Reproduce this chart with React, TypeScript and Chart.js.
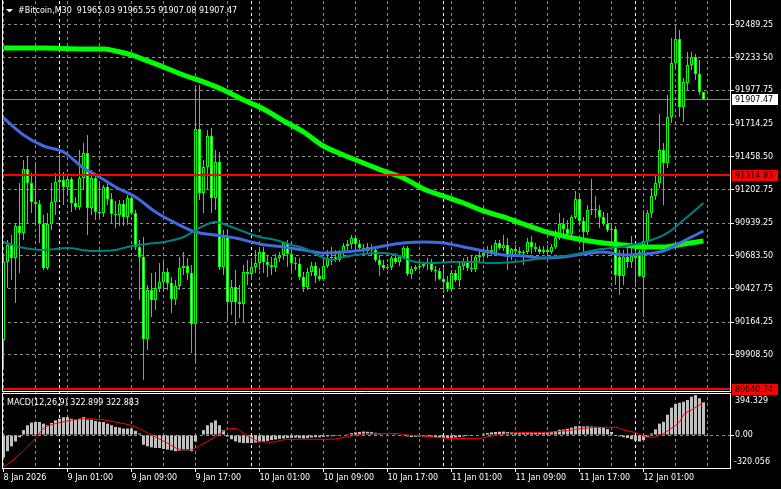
import React, { useEffect, useRef } from 'react';
import { Chart, registerables } from 'chart.js';

Chart.register(...registerables);

const FONT_FAMILY = 'DejaVu Sans';
const GRID_COLOR = '#8c8c8c';
const LIME = '#00ff00';

// ---- candles (M30), bar 0 = 8 Jan 17:00 ----
const OPENS = [
  90026, 90636, 90769, 90667, 90917, 90863, 91363, 91254, 91105, 91089,
  90933, 90589, 90933, 91105, 91261, 91277, 91222, 91285, 91097, 91066,
  91293, 91488, 91058, 91293, 91027, 91019, 91222, 91129, 91011, 91003,
  91089, 90988, 91136, 91019, 90753, 90675, 90034, 90417, 90339, 90432,
  90479, 90558, 90472, 90346, 90448, 90589, 90605, 90550, 90151, 91676,
  91175, 91379, 91621, 91136, 91418, 90597, 90831, 90323, 90440, 90323,
  90307, 90558, 90542, 90597, 90628, 90714, 90636, 90612, 90597, 90667,
  90691, 90784, 90698, 90628, 90620, 90519, 90440, 90558, 90605, 90526,
  90503, 90605, 90667, 90675, 90651, 90706, 90761, 90777, 90823, 90777,
  90745, 90722, 90753, 90730, 90651, 90612, 90589, 90597, 90667, 90636,
  90675, 90745, 90542, 90581, 90597, 90605, 90620, 90636, 90573, 90565,
  90503, 90479, 90425, 90550, 90495, 90605, 90636, 90589, 90581, 90675,
  90691, 90706, 90730, 90706, 90784, 90745, 90769, 90683, 90737, 90722,
  90706, 90714, 90792, 90753, 90737, 90714, 90730, 90714, 90753, 90823,
  90933, 90894, 90855, 90988, 91129, 90956, 90870, 91042, 91050, 91042,
  90988, 90933, 90886, 90894, 90675, 90526, 90675, 90636, 90683, 90714,
  90519, 90800, 91019, 91152, 91254, 91512, 91410, 91770, 92192, 92380,
  91848, 92036, 92176, 92239, 92106, 91965.03,
];
const HIGHS = [
  90691, 90808, 90847, 90941, 91254, 91433, 91457, 91332, 91418, 91121,
  91003, 91019, 91254, 91332, 91473, 91340, 91316, 91301, 91144, 91512,
  91566, 91629, 91355, 91332, 91254, 91238, 91246, 91175, 91113, 91121,
  91121, 91160, 91152, 91042, 90808, 90831, 90456, 90550, 90558, 90628,
  90636, 90589, 90519, 90495, 90675, 90714, 90667, 90612, 91997, 92020,
  91433, 91668, 91684, 91512, 91496, 90886, 90886, 90495, 90573, 90456,
  90612, 90651, 90667, 90730, 90745, 90753, 90691, 90675, 90698, 90714,
  90792, 90808, 90730, 90675, 90667, 90558, 90589, 90636, 90636, 90589,
  90667, 90730, 90753, 90730, 90730, 90784, 90808, 90847, 90839, 90808,
  90777, 90784, 90777, 90753, 90691, 90651, 90620, 90683, 90706, 90691,
  90761, 90761, 90605, 90612, 90636, 90636, 90667, 90659, 90605, 90589,
  90597, 90526, 90573, 90573, 90628, 90667, 90675, 90683, 90691, 90730,
  90745, 90761, 90769, 90808, 90808, 90847, 90823, 90745, 90769, 90753,
  90730, 90823, 90839, 90784, 90761, 90761, 90769, 90777, 90886, 91019,
  90980, 90964, 91003, 91191, 91152, 90988, 91082, 91285, 91152, 91082,
  91027, 91019, 90917, 90917, 90730, 90730, 90745, 90839, 90730, 90730,
  91042, 91042, 91215, 91324, 91793, 91566, 91942, 92388, 92481, 92450,
  92075, 92278, 92278, 92262, 92216, 91965.55,
];
const LOWS = [
  89815, 90432, 90495, 90315, 90550, 90808, 90941, 91019, 90941, 90784,
  90573, 90573, 90886, 91003, 91121, 91082, 91160, 91027, 91042, 91042,
  91199, 90847, 91003, 90964, 90980, 90988, 91082, 90941, 90902, 90917,
  90917, 90925, 91003, 90730, 90339, 89713, 89948, 90206, 90260, 90401,
  90417, 90417, 90237, 90300, 90417, 90534, 90495, 89924, 89846, 91121,
  91019, 91199, 91019, 91042, 90573, 90534, 90182, 90221, 90143, 90198,
  90167, 90456, 90495, 90550, 90573, 90550, 90519, 90534, 90558, 90636,
  90651, 90597, 90558, 90573, 90495, 90401, 90417, 90526, 90472, 90487,
  90487, 90589, 90612, 90636, 90636, 90667, 90714, 90737, 90737, 90714,
  90691, 90706, 90683, 90636, 90526, 90573, 90573, 90573, 90620, 90605,
  90659, 90526, 90503, 90565, 90573, 90589, 90573, 90558, 90487, 90495,
  90393, 90401, 90417, 90479, 90440, 90573, 90565, 90558, 90558, 90636,
  90667, 90667, 90683, 90691, 90730, 90722, 90573, 90651, 90675, 90683,
  90612, 90698, 90698, 90714, 90698, 90698, 90698, 90698, 90737, 90808,
  90839, 90839, 90839, 90972, 90925, 90714, 90847, 91003, 90980, 90902,
  90917, 90870, 90792, 90456, 90378, 90456, 90589, 90589, 90440, 90519,
  90206, 90769, 90980, 91121, 91215, 91082, 91371, 91723, 92153, 91770,
  91731, 91981, 92137, 92059, 91942, 91907.08,
];
const CLOSES = [
  90636, 90769, 90667, 90917, 90863, 91363, 91254, 91105, 91089, 90933,
  90589, 90933, 91105, 91261, 91277, 91222, 91285, 91097, 91066, 91293,
  91488, 91058, 91293, 91027, 91019, 91222, 91129, 91011, 91003, 91089,
  90988, 91136, 91019, 90753, 90675, 90034, 90417, 90339, 90432, 90479,
  90558, 90472, 90346, 90448, 90589, 90605, 90550, 90151, 91676, 91175,
  91379, 91621, 91136, 91418, 90597, 90831, 90323, 90440, 90323, 90307,
  90558, 90542, 90597, 90628, 90714, 90636, 90612, 90597, 90667, 90691,
  90784, 90698, 90628, 90620, 90519, 90440, 90558, 90605, 90526, 90503,
  90605, 90667, 90675, 90651, 90706, 90761, 90777, 90823, 90777, 90745,
  90722, 90753, 90730, 90651, 90612, 90589, 90597, 90667, 90636, 90675,
  90745, 90542, 90581, 90597, 90605, 90620, 90636, 90573, 90565, 90503,
  90479, 90425, 90550, 90495, 90605, 90636, 90589, 90581, 90675, 90691,
  90706, 90730, 90706, 90784, 90745, 90769, 90683, 90737, 90722, 90706,
  90714, 90792, 90753, 90737, 90714, 90730, 90714, 90753, 90823, 90933,
  90894, 90855, 90988, 91129, 90956, 90870, 91042, 91050, 91042, 90988,
  90933, 90886, 90894, 90534, 90526, 90675, 90636, 90683, 90667, 90526,
  90800, 91019, 91152, 91254, 91512, 91410, 91770, 92192, 92380, 91848,
  92044, 92176, 92239, 92106, 91965.03, 91907.47,
];

// ---- moving averages: [bar, price] ----
const MA_SLOW: [number, number][] = [
  [0, 92309], [10, 92309], [20, 92302], [25, 92302], [28, 92286], [32, 92255], [36, 92208],
  [40, 92161], [45, 92098], [50, 92044], [55, 91981], [60, 91903], [65, 91832], [70, 91739],
  [75, 91653], [80, 91543], [85, 91473], [90, 91410], [95, 91348], [100, 91293], [105, 91207],
  [110, 91152], [115, 91097], [120, 91035], [125, 90988], [130, 90933], [135, 90878],
  [140, 90839], [145, 90808], [150, 90784], [155, 90769], [160, 90753], [165, 90753],
  [170, 90777], [175, 90800],
];
const MA_MID: [number, number][] = [
  [0, 91762], [5, 91629], [10, 91543], [15, 91496], [20, 91371], [24, 91301], [28, 91222],
  [33, 91144], [38, 91027], [43, 90941], [48, 90870], [53, 90847], [58, 90823], [64, 90777],
  [70, 90753], [75, 90730], [80, 90706], [85, 90714], [90, 90730], [95, 90761], [100, 90784],
  [105, 90792], [110, 90784], [115, 90753], [120, 90722], [125, 90691], [130, 90683],
  [135, 90667], [140, 90675], [145, 90698], [150, 90714], [155, 90691], [160, 90698],
  [165, 90722], [170, 90800], [175, 90878],
];
const MA_FAST: [number, number][] = [
  [0, 90792], [4, 90753], [10, 90730], [16, 90745], [22, 90722], [28, 90730], [32, 90761],
  [36, 90777], [40, 90792], [45, 90831], [49, 90902], [53, 90949], [57, 90910], [61, 90863],
  [64, 90831], [68, 90808], [72, 90769], [75, 90745], [79, 90683], [82, 90651], [85, 90675],
  [90, 90698], [95, 90706], [99, 90683], [102, 90644], [107, 90628], [112, 90636],
  [117, 90636], [122, 90628], [130, 90644], [135, 90667], [142, 90691], [148, 90730],
  [152, 90745], [157, 90769], [162, 90808], [166, 90863], [170, 90964], [175, 91097],
];

// ---- MACD(12,26,9) ----
const MACD_HIST = [
  -221, -160, -112, -64, -22, 48, 96, 122, 128, 128,
  112, 96, 119, 144, 160, 176, 176, 160, 151, 160,
  176, 151, 151, 138, 128, 128, 112, 96, 80, 74,
  64, 64, 64, 42, 16, -96, -112, -122, -128, -128,
  -138, -144, -151, -160, -154, -151, -151, -160, -64, 4,
  48, 96, 122, 144, 96, 48, -16, -42, -64, -74,
  -80, -80, -80, -74, -72, -68, -58, -50, -44, -38,
  -34, -30, -28, -26, -30, -34, -30, -24, -22, -22,
  -18, -14, -12, -10, -6, 0, 8, 18, 26, 30,
  34, 32, 30, 22, 12, 6, 4, 6, 2, -4,
  -6, -14, -20, -18, -16, -14, -16, -20, -24, -28,
  -30, -32, -28, -24, -20, -14, -10, -8, -4, 4,
  12, 20, 26, 30, 32, 34, 30, 26, 24, 22,
  24, 26, 26, 24, 22, 24, 28, 30, 40, 52,
  54, 62, 72, 86, 88, 84, 86, 84, 82, 80,
  76, 58, 30, -10, -14, -22, -30, -42, -56, -64,
  -50, -20, 16, 56, 112, 130, 200, 270, 306, 318,
  328, 345, 378, 394.329, 362, 322.899,
];
const MACD_SIGNAL: [number, number][] = [
  [0, -320.056], [4, -192], [8, -32], [10, 64], [13, 112], [16, 138], [20, 160], [24, 154],
  [28, 128], [33, 80], [37, 0], [41, -80], [44, -140], [47, -144], [49, -106], [53, -16],
  [56, 58], [58, 64], [60, 16], [62, -30], [64, -64], [67, -70], [70, -48], [72, -42],
  [82, -42], [84, -32], [87, -10], [89, 6], [92, 16], [98, 16], [101, 0], [105, -10],
  [108, -22], [112, -35], [119, -32], [122, -10], [125, 10], [128, 22], [136, 27], [141, 43],
  [145, 66], [149, 76], [153, 76], [155, 50], [158, 24], [160, -10], [162, -23], [164, 0],
  [165, 16], [167, 66], [169, 131], [170, 197], [172, 247], [174, 296], [175, 322.883],
];

// ---- axes / annotations ----
const PRICE_TICKS = [
  92489.25, 92233.5, 91977.75, 91714.25, 91458.5, 91202.75, 90939.25, 90683.5, 90427.75,
  90164.25, 89908.5,
];
const GRID_BARS = [
  0, 8, 16, 24, 32, 40, 48, 56, 64, 72, 80, 88, 96, 104, 112, 120, 128, 136, 144, 152, 160,
  168, 176,
];
const TIME_LABEL_BARS = [0, 16, 32, 48, 64, 80, 96, 112, 128, 144, 160];
const TIME_LABELS = [
  '8 Jan 2026', '9 Jan 01:00', '9 Jan 09:00', '9 Jan 17:00', '10 Jan 01:00', '10 Jan 09:00',
  '10 Jan 17:00', '11 Jan 01:00', '11 Jan 09:00', '11 Jan 17:00', '12 Jan 01:00',
];
const DAY_SEPARATOR_BARS = [14, 62, 110, 158];
const LEVEL_LINES = [91314.83, 89640.74];
const BID_PRICE = 91907.47;
const HEADER_TEXT = '#Bitcoin,M30  91965.03 91965.55 91907.08 91907.47';
const MACD_TITLE = 'MACD(12,26,9) 322.899 322.883';
const MACD_MAX = 394.329;
const MACD_MIN = -320.056;

const W = 781;
const H = 489;
const FONT = `8px "${FONT_FAMILY}"`;

const labelMap: Record<number, string> = {};
TIME_LABEL_BARS.forEach((b, i) => { labelMap[b] = TIME_LABELS[i]; });

const mtPlugin = {
  id: 'mt4look',
  beforeDraw(chart: any) {
    const { ctx, width, height } = chart;
    ctx.save();
    ctx.fillStyle = '#000';
    ctx.fillRect(0, 0, width, height);
    ctx.restore();
  },
  beforeDatasetsDraw(chart: any) {
    const { ctx, chartArea, scales } = chart;
    ctx.save();
    ctx.lineWidth = 1;
    ctx.strokeStyle = '#ffffff';
    ctx.setLineDash([3, 3]);
    for (const b of DAY_SEPARATOR_BARS) {
      const x = Math.floor(scales.x.getPixelForValue(b)) + 0.5;
      ctx.beginPath();
      ctx.moveTo(x, chartArea.top);
      ctx.lineTo(x, chartArea.bottom);
      ctx.stroke();
    }
    ctx.setLineDash([]);
    const yb = Math.floor(scales.y.getPixelForValue(BID_PRICE)) + 0.5;
    ctx.strokeStyle = '#778899';
    ctx.beginPath();
    ctx.moveTo(chartArea.left, yb);
    ctx.lineTo(chartArea.right, yb);
    ctx.stroke();
    ctx.restore();
  },
  afterDatasetsDraw(chart: any) {
    const { ctx, chartArea, scales } = chart;
    const L = chartArea.left;
    const R = chartArea.right;
    ctx.save();
    // red horizontal levels
    ctx.fillStyle = '#ff0000';
    for (const v of LEVEL_LINES) {
      const y = Math.round(scales.y.getPixelForValue(v));
      ctx.fillRect(L, y - 1, R - L, 2);
    }
    // panel borders
    const mainBottom = Math.round(scales.y.bottom) - 2;
    const macdTop = Math.round(scales.y2.top);
    const macdBottom = Math.round(scales.y2.bottom);
    ctx.strokeStyle = '#ffffff';
    ctx.lineWidth = 1;
    ctx.beginPath();
    ctx.moveTo(L + 0.5, 0); ctx.lineTo(L + 0.5, mainBottom + 0.5);
    ctx.moveTo(R + 0.5, 0); ctx.lineTo(R + 0.5, mainBottom + 0.5);
    ctx.moveTo(L, mainBottom + 0.5); ctx.lineTo(R + 1, mainBottom + 0.5);
    ctx.moveTo(L, macdTop + 0.5); ctx.lineTo(R + 1, macdTop + 0.5);
    ctx.moveTo(L + 0.5, macdTop); ctx.lineTo(L + 0.5, macdBottom + 0.5);
    ctx.moveTo(R + 0.5, macdTop); ctx.lineTo(R + 0.5, macdBottom + 0.5);
    ctx.moveTo(L, macdBottom + 0.5); ctx.lineTo(R + 1, macdBottom + 0.5);
    ctx.stroke();

    ctx.font = FONT;
    ctx.textBaseline = 'middle';
    ctx.textAlign = 'left';
    // header
    ctx.fillStyle = '#ffffff';
    ctx.beginPath();
    ctx.moveTo(6, 9); ctx.lineTo(13, 9); ctx.lineTo(9.5, 12.5); ctx.closePath();
    ctx.fill();
    ctx.fillText(HEADER_TEXT, 18, 10.5);
    // MACD title
    ctx.fillText(MACD_TITLE, 7, 403);
    // MACD scale extremes
    ctx.fillText(MACD_MAX.toFixed(3), 735, 401);
    ctx.fillText(MACD_MIN.toFixed(3), 734, 461.5);

    // price tags on the axis
    const tag = (v: number, bg: string, fg: string) => {
      const y = Math.round(scales.y.getPixelForValue(v));
      ctx.fillStyle = bg;
      ctx.fillRect(732, y - 5, 46, 11);
      ctx.fillStyle = fg;
      ctx.fillText(v.toFixed(2), 735, y + 0.5);
    };
    tag(BID_PRICE, '#ffffff', '#000000');
    for (const v of LEVEL_LINES) tag(v, '#ff0000', '#000000');
    ctx.restore();
  },
};

export default function App() {
  const ref = useRef<HTMLCanvasElement>(null);

  useEffect(() => {
    document.body.style.margin = '0';
    document.body.style.background = '#000';
    const canvas = ref.current;
    if (!canvas) return;

    const wicks = LOWS.map((l, i) => ({ x: i, y: [l, HIGHS[i]] }));
    const bodies = OPENS.map((o, i) => ({ x: i, y: [o, CLOSES[i]] }));
    const bodyFill = OPENS.map((o, i) => (CLOSES[i] >= o ? '#000000' : '#ffffff'));
    const hist = MACD_HIST.map((v, i) => ({ x: i, y: v }));
    const toPts = (arr: [number, number][]) => arr.map(([x, y]) => ({ x, y }));

    const yCommon = {
      position: 'right' as const,
      stack: 'panes',
      afterFit: (s: any) => {
        s.width = 51;
        s.paddingTop = 0;
        s.paddingBottom = 0;
      },
      ticks: {
        autoSkip: false,
        color: '#ffffff',
        padding: 1,
        font: { family: FONT_FAMILY, size: 8 },
        callback: (v: any) => Number(v).toFixed(2),
      },
      grid: {
        color: GRID_COLOR,
        lineWidth: 1,
        drawTicks: true,
        tickLength: 4,
        tickColor: '#ffffff',
        tickWidth: 1,
        tickBorderDash: [],
      },
      border: { display: false, dash: [3, 3] },
    };

    const chart = new Chart(canvas, {
      type: 'bar',
      data: {
        datasets: [
          {
            type: 'line',
            data: toPts(MACD_SIGNAL),
            yAxisID: 'y2',
            borderColor: '#ff0000',
            borderWidth: 1,
            pointRadius: 0,
            cubicInterpolationMode: 'monotone',
            order: 0,
          } as any,
          {
            type: 'line',
            data: toPts(MA_FAST),
            yAxisID: 'y',
            borderColor: '#008080',
            borderWidth: 2,
            pointRadius: 0,
            cubicInterpolationMode: 'monotone',
            order: 1,
          },
          {
            type: 'line',
            data: toPts(MA_MID),
            yAxisID: 'y',
            borderColor: '#4169e1',
            borderWidth: 3,
            pointRadius: 0,
            cubicInterpolationMode: 'monotone',
            order: 2,
          },
          {
            type: 'line',
            data: toPts(MA_SLOW),
            yAxisID: 'y',
            borderColor: LIME,
            borderWidth: 5,
            pointRadius: 0,
            cubicInterpolationMode: 'monotone',
            order: 3,
          },
          {
            type: 'bar',
            data: bodies,
            yAxisID: 'y',
            backgroundColor: bodyFill,
            borderColor: LIME,
            borderWidth: 1,
            borderSkipped: false,
            barThickness: 3,
            grouped: false,
            inflateAmount: 0,
            order: 8,
          } as any,
          {
            type: 'bar',
            data: wicks,
            yAxisID: 'y',
            backgroundColor: LIME,
            borderWidth: 0,
            barThickness: 1,
            grouped: false,
            inflateAmount: 0,
            order: 9,
          } as any,
          {
            type: 'bar',
            data: hist,
            yAxisID: 'y2',
            backgroundColor: '#c0c0c0',
            borderWidth: 0,
            barThickness: 3,
            grouped: false,
            inflateAmount: 0,
            order: 10,
          } as any,
        ],
      },
      options: {
        responsive: false,
        animation: false,
        devicePixelRatio: 1,
        events: [],
        layout: { padding: { top: 1, left: 2, right: 0, bottom: 0 } },
        plugins: { legend: { display: false }, tooltip: { enabled: false } },
        scales: {
          x: {
            type: 'linear',
            min: -0.375,
            max: 181.625,
            offset: false,
            afterBuildTicks: (s: any) => {
              s.ticks = GRID_BARS.map((v) => ({ value: v }));
            },
            afterFit: (s: any) => {
              s.height = 21;
              s.paddingLeft = 0;
              s.paddingRight = 0;
            },
            ticks: {
              autoSkip: false,
              maxRotation: 0,
              minRotation: 0,
              align: 'start',
              color: '#ffffff',
              padding: 1,
              font: { family: FONT_FAMILY, size: 8 },
              callback: (v: any) => labelMap[Number(v)] ?? '',
            },
            grid: {
              offset: false,
              color: GRID_COLOR,
              lineWidth: 1,
              drawTicks: true,
              tickLength: 4,
              tickWidth: 1,
              tickBorderDash: [],
              tickColor: (c: any) =>
                c.tick && labelMap[c.tick.value] !== undefined ? '#ffffff' : 'rgba(0,0,0,0)',
            },
            border: { display: false, dash: [3, 3] },
          },
          y: {
            ...yCommon,
            type: 'linear',
            stackWeight: 392,
            min: 89611.3,
            max: 92676.93,
            afterBuildTicks: (s: any) => {
              s.ticks = PRICE_TICKS.map((v) => ({ value: v }));
            },
          },
          y2: {
            ...yCommon,
            type: 'linear',
            stackWeight: 75,
            min: -325.3,
            max: 414.05,
            afterBuildTicks: (s: any) => {
              s.ticks = [{ value: 0 }];
            },
          },
        } as any,
      },
      plugins: [mtPlugin],
    });
    return () => chart.destroy();
  }, []);

  return (
    <div style={{ position: 'fixed', left: 0, top: 0, width: W, height: H, background: '#000' }}>
      <canvas ref={ref} width={W} height={H} style={{ display: 'block', width: W, height: H }} />
    </div>
  );
}
